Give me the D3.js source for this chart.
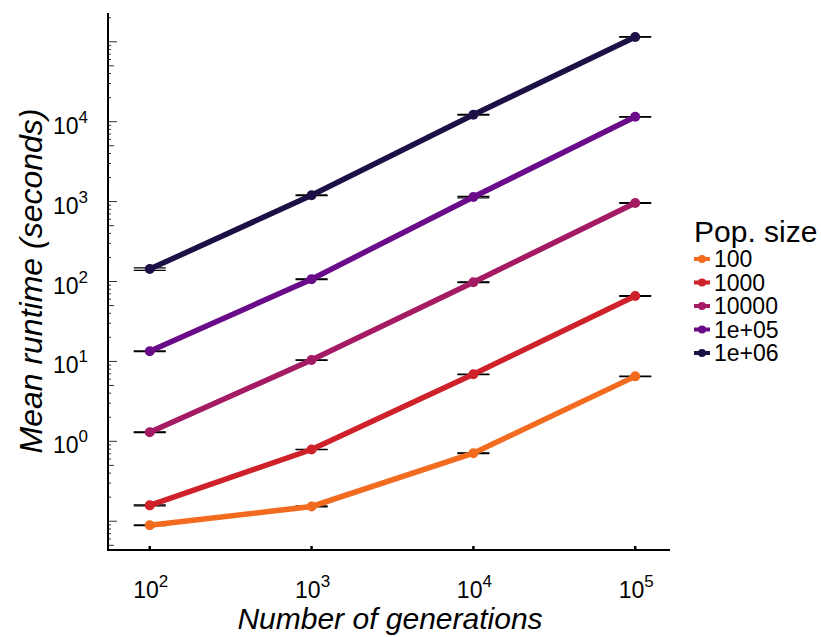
<!DOCTYPE html>
<html lang="en">
<head>
<meta charset="UTF-8">
<title>Mean runtime by generations</title>
<script src="https://d3js.org/d3.v7.min.js"></script>
<style>
  body { margin: 0; background: #fff; }
  svg { font-family: "Liberation Sans", Arial, sans-serif; }
</style>
</head>
<body>
<div id="chart"></div>
<script>
// data
const generations = [100, 1000, 10000, 100000];
const popSizes = ["100", "1000", "10000", "1e+05", "1e+06"];
const runtime100 = [0.089, 0.153, 0.71, 6.5];
const runtime1000 = [0.158, 0.79, 6.9, 66];
const runtime10000 = [1.3, 10.4, 98, 960];
const runtime1e5 = [13.4, 107, 1140, 11500];
const runtime1e6 = [143, 1200, 12200, 115000];
// standard errors (small, mostly hidden under caps)
const se100 = [0.001, 0.002, 0.006, 0.04];
const se1000 = [0.002, 0.005, 0.05, 0.6];
const se10000 = [0.01, 0.08, 0.8, 8];
const se1e5 = [0.12, 1, 25, 100];
const se1e6 = [5, 12, 150, 900];
const colors = ["#F26B1F", "#CF2129", "#A41B63", "#6A0B8A", "#1C1047"];
const yTicks = [1e0, 1e1, 1e2, 1e3, 1e4];

const allRuntimes = [runtime100, runtime1000, runtime10000, runtime1e5, runtime1e6];
const allSe = [se100, se1000, se10000, se1e5, se1e6];

const width = 821, height = 637;
const margin = { left: 108, right: 670, top: 13, bottom: 550 };

const svg = d3.select("#chart").append("svg")
  .attr("width", width).attr("height", height);

const x = d3.scaleLog().domain([Math.pow(10, 1.742), Math.pow(10, 5.215)]).range([margin.left, margin.right]);
const y = d3.scaleLog().domain([Math.pow(10, -1.36), Math.pow(10, 5.36)]).range([margin.bottom, margin.top]);

// log ticks on the y axis (inside)
const minorTicks = [];
for (let e = -2; e <= 5; e++) {
  for (let m = 1; m <= 9; m++) {
    const v = m * Math.pow(10, e);
    if (v >= y.domain()[0] && v <= y.domain()[1]) minorTicks.push({ v: v, m: m });
  }
}
svg.append("g").selectAll("line").data(minorTicks).join("line")
  .attr("x1", margin.left).attr("x2", d => margin.left + (d.m === 1 ? 9 : d.m === 5 ? 6 : 3))
  .attr("y1", d => y(d.v)).attr("y2", d => y(d.v))
  .attr("stroke", "#333").attr("stroke-width", 1);

// x ticks (inside, short)
svg.append("g").selectAll("line").data(generations).join("line")
  .attr("x1", d => x(d)).attr("x2", d => x(d))
  .attr("y1", margin.bottom).attr("y2", margin.bottom - 4)
  .attr("stroke", "#000").attr("stroke-width", 2.5);

// axis lines
svg.append("line").attr("x1", margin.left).attr("x2", margin.left)
  .attr("y1", margin.top).attr("y2", margin.bottom + 1)
  .attr("stroke", "#000").attr("stroke-width", 2);
svg.append("line").attr("x1", margin.left - 1).attr("x2", margin.right)
  .attr("y1", margin.bottom).attr("y2", margin.bottom)
  .attr("stroke", "#000").attr("stroke-width", 2);

// tick labels 10^n
function powLabel(sel, v) {
  const e = Math.round(Math.log10(v));
  sel.append("tspan").text("10");
  sel.append("tspan").attr("dy", -11).attr("font-size", 17).text(e);
}
svg.append("g").selectAll("text").data(yTicks).join("text")
  .attr("x", 88).attr("y", d => y(d) + 12)
  .attr("text-anchor", "end").attr("font-size", 23).attr("fill", "#000")
  .each(function (d) { powLabel(d3.select(this), d); });

svg.append("g").selectAll("text").data(generations).join("text")
  .attr("x", d => x(d) + 1).attr("y", 598)
  .attr("text-anchor", "middle").attr("font-size", 23).attr("fill", "#000")
  .each(function (d) { powLabel(d3.select(this), d); });

// axis titles
svg.append("text").attr("x", 390).attr("y", 629)
  .attr("text-anchor", "middle").attr("font-size", 30).attr("font-style", "italic")
  .text("Number of generations");
svg.append("text").attr("transform", "translate(42,281) rotate(-90)")
  .attr("text-anchor", "middle").attr("font-size", 32).attr("font-style", "italic")
  .text("Mean runtime (seconds)");

// error bars
const line = d3.line().x(d => x(d.g)).y(d => y(d.r));
allRuntimes.forEach((runs, i) => {
  const pts = generations.map((g, j) => ({ g: g, r: runs[j], se: allSe[i][j] }));
  const eb = svg.append("g");
  pts.forEach(p => {
    [p.r - p.se, p.r + p.se].forEach(v => {
      eb.append("line")
        .attr("x1", x(p.g) - 16).attr("x2", x(p.g) + 16)
        .attr("y1", y(v)).attr("y2", y(v))
        .attr("stroke", "#000").attr("stroke-width", 1.3);
    });
  });
});

// lines and points
allRuntimes.forEach((runs, i) => {
  const pts = generations.map((g, j) => ({ g: g, r: runs[j] }));
  svg.append("path").datum(pts)
    .attr("d", line).attr("fill", "none")
    .attr("stroke", colors[i]).attr("stroke-width", 5.5);
  svg.append("g").selectAll("circle").data(pts).join("circle")
    .attr("cx", d => x(d.g)).attr("cy", d => y(d.r)).attr("r", 5)
    .attr("fill", colors[i]);
});

// legend
const legend = svg.append("g").attr("transform", "translate(694,0)");
legend.append("text").attr("x", 0).attr("y", 242).attr("font-size", 30).text("Pop. size");
popSizes.forEach((p, i) => {
  const cy = 259 + i * 23.5;
  legend.append("line").attr("x1", 0).attr("x2", 16).attr("y1", cy).attr("y2", cy)
    .attr("stroke", colors[i]).attr("stroke-width", 4);
  legend.append("circle").attr("cx", 8).attr("cy", cy).attr("r", 4).attr("fill", colors[i]);
  legend.append("text").attr("x", 20).attr("y", cy + 8).attr("font-size", 23).text(p);
});
</script>
</body>
</html>
